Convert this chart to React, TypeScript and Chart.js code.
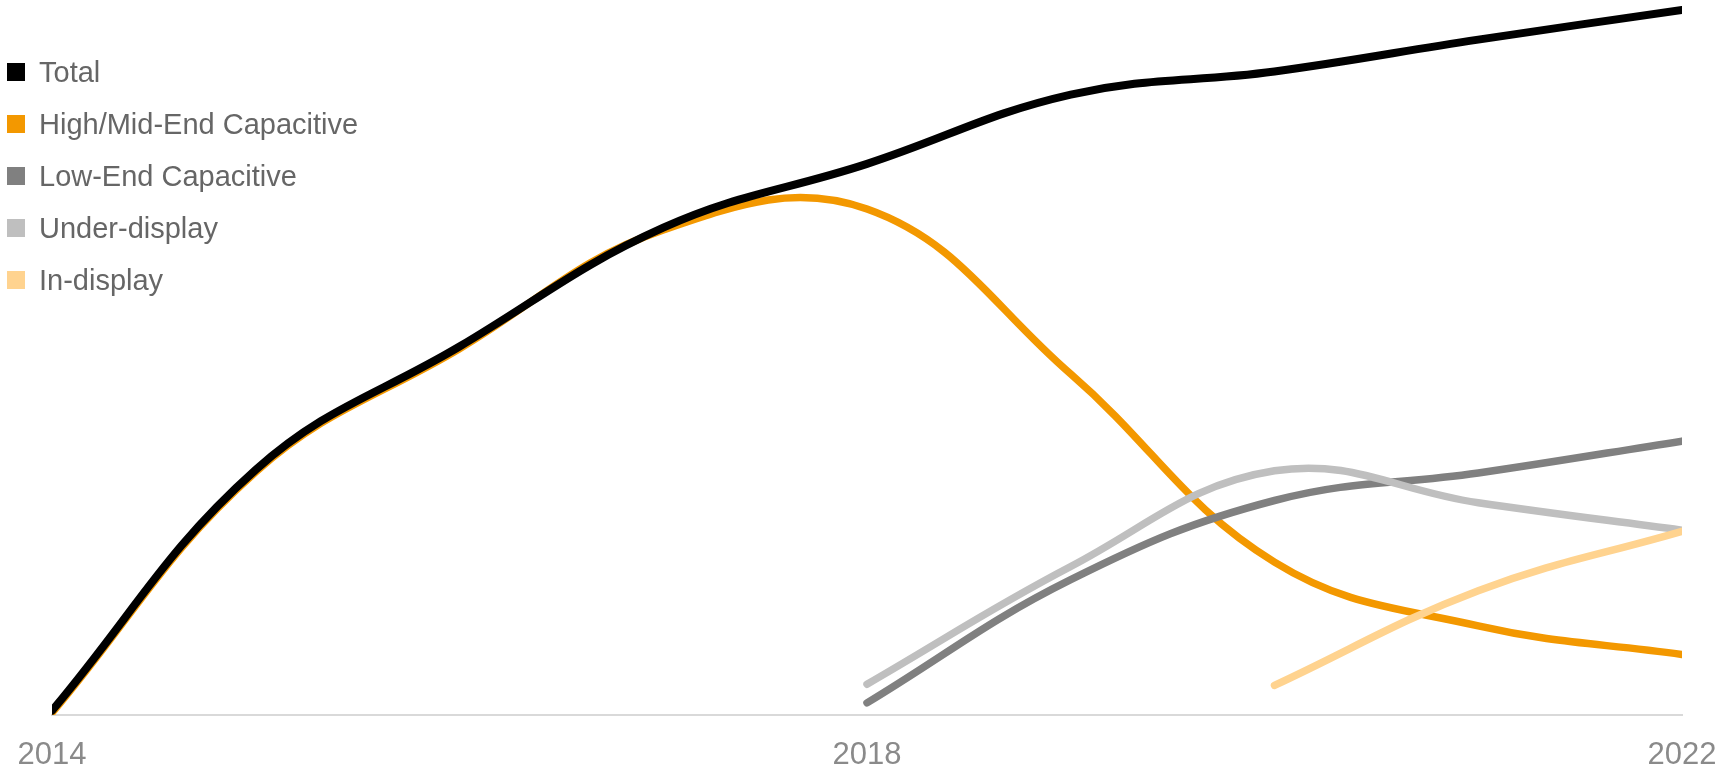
import React, { useEffect, useRef } from "react";
import { Chart, registerables } from "chart.js";

Chart.register(...registerables);

const years = ["2014", "2015", "2016", "2017", "2018", "2019", "2020", "2021", "2022"];
const shownTicks = ["2014", "2018", "2022"];

const total = [4, 223, 335, 443, 501, 564, 585, 614, 641];
const highMidCapacitive = [2, 221, 333, 441, 460, 310, 139, 81, 55];
const lowEndCapacitive = [null, null, null, null, 11, 123, 195, 220, 249];
const underDisplay = [null, null, null, null, 28, 135, 222, 193, 168];
const inDisplay = [null, null, null, null, null, null, 27, 113, 167];

const seriesNames = ["Total", "High/Mid-End Capacitive", "Low-End Capacitive", "Under-display", "In-display"];
const seriesColors = ["#000000", "#F39800", "#808080", "#BFBFBF", "#FFD38F"];
const seriesValues = [total, highMidCapacitive, lowEndCapacitive, underDisplay, inDisplay];
const drawOrder = [0, 4, 3, 2, 1];

const FONT = "'Liberation Sans', Arial, Helvetica, sans-serif";

export default function App() {
  const ref = useRef<HTMLCanvasElement | null>(null);

  useEffect(() => {
    if (!ref.current) return;
    const chart = new Chart(ref.current, {
      type: "line",
      data: {
        labels: years,
        datasets: seriesValues.map((vals, i) => ({
          label: seriesNames[i],
          data: vals,
          borderColor: seriesColors[i],
          backgroundColor: seriesColors[i],
          borderWidth: i === 0 ? 8 : 7.5,
          tension: 0.4,
          pointRadius: 0,
          pointHoverRadius: 0,
          fill: false,
          spanGaps: false,
          borderCapStyle: "round" as const,
          borderJoinStyle: "round" as const,
          order: drawOrder[i],
          clip: { left: 0, right: 0, top: 12, bottom: 0 } as any,
        })),
      },
      options: {
        responsive: false,
        animation: false,
        layout: { padding: { left: 52, right: 41, top: 0, bottom: 0 } },
        plugins: {
          legend: { display: false },
          tooltip: { enabled: false },
        },
        scales: {
          x: {
            type: "category",
            offset: false,
            grid: { display: false, drawTicks: true, tickLength: 22 },
            border: { display: true, color: "#D9D9D9", width: 2 },
            ticks: {
              autoSkip: false,
              maxRotation: 0,
              minRotation: 0,
              padding: 0,
              color: "#8A8A8A",
              font: { family: FONT, size: 31 },
              callback: function (this: any, _v: any, idx: number) {
                const lab = years[idx];
                return shownTicks.includes(lab) ? lab : "";
              },
            },
            afterFit: (scale: any) => {
              scale.height = 56;
            },
          },
          y: {
            display: false,
            min: 0,
            max: 650,
          },
        },
      },
    });
    return () => chart.destroy();
  }, []);

  return (
    <div style={{ position: "absolute", left: 0, top: 0, width: 1723, height: 771, background: "#fff", overflow: "hidden" }}>
      <canvas ref={ref} width={1723} height={771} style={{ display: "block", width: 1723, height: 771 }} />
      <div style={{ position: "absolute", left: 7, top: 69.2 - 26 + 3, fontFamily: FONT, fontSize: 29, color: "#666666" }}>
        {seriesNames.map((name, i) => (
          <div key={name} style={{ display: "flex", alignItems: "center", height: 52.05, whiteSpace: "nowrap" }}>
            <span style={{ display: "inline-block", width: 18, height: 18, background: seriesColors[i], marginRight: 14, flex: "0 0 auto" }} />
            <span style={{ lineHeight: "29px" }}>{name}</span>
          </div>
        ))}
      </div>
    </div>
  );
}
